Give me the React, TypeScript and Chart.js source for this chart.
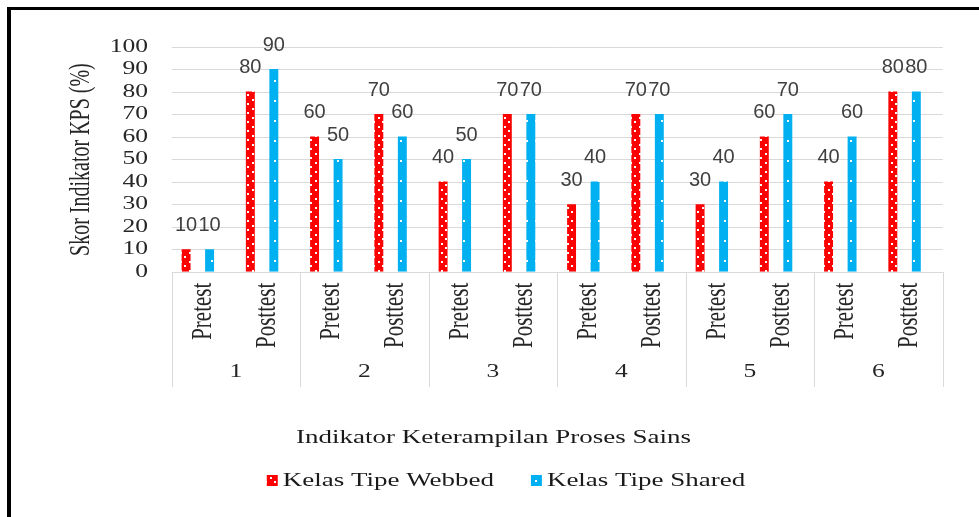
import React, { useEffect, useRef } from 'react';
import { Chart, registerables } from 'chart.js';

Chart.register(...registerables);

const GROUPS = ['1', '2', '3', '4', '5', '6'];
const PHASES = ['Pretest', 'Posttest'];
const CATEGORIES = GROUPS.flatMap((g) => PHASES.map((p) => `${g} ${p}`));
const WEBBED = [10, 80, 60, 70, 40, 70, 30, 70, 30, 60, 40, 80];
const SHARED = [10, 90, 50, 60, 50, 70, 40, 70, 40, 70, 60, 80];
const Y_TICKS = [0, 10, 20, 30, 40, 50, 60, 70, 80, 90, 100];
const SERIES_NAMES = ['Kelas Tipe Webbed', 'Kelas Tipe Shared'];
const X_TITLE = 'Indikator Keterampilan Proses Sains';
const Y_TITLE = 'Skor Indikator KPS (%)';

const RED = '#ff0000';
const BLUE = '#00b0f0';
const GRID = '#d9d9d9';
const SX = 1.42; // horizontal stretch of the serif text
const SHIFT = 6; // axis frame offset relative to the bar slots
const SERIF = "'Liberation Serif', 'Times New Roman', serif";
const SANS = "'Liberation Sans', Arial, sans-serif";

function makePattern(ctx: CanvasRenderingContext2D, bg: string, w: number, h: number, dots: number[][]) {
  const c = document.createElement('canvas');
  c.width = w;
  c.height = h;
  const g = c.getContext('2d')!;
  g.fillStyle = bg;
  g.fillRect(0, 0, w, h);
  g.fillStyle = '#ffffff';
  dots.forEach(([x, y, dw, dh]) => g.fillRect(x, y, dw, dh));
  return ctx.createPattern(c, 'repeat')!;
}

function sText(
  ctx: CanvasRenderingContext2D,
  text: string,
  x: number,
  y: number,
  font: string,
  color: string,
  align: CanvasTextAlign,
  baseline: CanvasTextBaseline,
  sx: number,
  rot = 0
) {
  ctx.save();
  ctx.translate(x, y);
  ctx.scale(sx, 1);
  if (rot) ctx.rotate(rot);
  ctx.font = font;
  ctx.fillStyle = color;
  ctx.textAlign = align;
  ctx.textBaseline = baseline;
  ctx.fillText(text, 0, 0);
  ctx.restore();
}

export default function App() {
  const ref = useRef<HTMLCanvasElement>(null);

  useEffect(() => {
    const canvas = ref.current!;
    const ctx0 = canvas.getContext('2d')!;
    const redPat = makePattern(ctx0, RED, 9, 9, [
      [0, 0, 2, 2],
      [4, 4, 2, 2],
    ]);
    const bluePat = makePattern(ctx0, BLUE, 9, 20, [[4, 0, 2, 2]]);
    const patterns = [redPat, bluePat];

    const frame = (chart: any) => {
      const xs = chart.scales.x;
      const n = CATEGORIES.length;
      const catW = xs.getPixelForValue(1) - xs.getPixelForValue(0);
      const left = xs.getPixelForValue(0) - catW / 2 + SHIFT;
      const right = xs.getPixelForValue(n - 1) + catW / 2 + SHIFT;
      return { catW, left, right };
    };

    const plugin = {
      id: 'excelLook',
      beforeDatasetsDraw(chart: any) {
        const ctx = chart.ctx as CanvasRenderingContext2D;
        const ys = chart.scales.y;
        const { catW, left, right } = frame(chart);
        ctx.save();
        ctx.strokeStyle = GRID;
        ctx.lineWidth = 1;
        Y_TICKS.forEach((v) => {
          const y = Math.round(ys.getPixelForValue(v)) + 0.5;
          ctx.beginPath();
          ctx.moveTo(left, y);
          ctx.lineTo(right, y);
          ctx.stroke();
        });
        // group separators of the two-level category axis
        const y0 = Math.round(ys.getPixelForValue(0));
        for (let g = 0; g <= GROUPS.length; g++) {
          const x = Math.round(left + g * PHASES.length * catW) + 0.5;
          ctx.beginPath();
          ctx.moveTo(x, y0);
          ctx.lineTo(x, y0 + 115);
          ctx.stroke();
        }
        ctx.restore();
      },
      afterDatasetsDraw(chart: any) {
        const ctx = chart.ctx as CanvasRenderingContext2D;
        const ys = chart.scales.y;
        const xs = chart.scales.x;
        const { catW, left } = frame(chart);
        const y0 = ys.getPixelForValue(0);

        // data labels
        chart.data.datasets.forEach((ds: any, di: number) => {
          const meta = chart.getDatasetMeta(di);
          meta.data.forEach((el: any, i: number) => {
            sText(ctx, String(ds.data[i]), el.x, el.y - 18.5, `20px ${SANS}`, '#404040', 'center', 'alphabetic', 1);
          });
        });

        // y tick labels
        Y_TICKS.forEach((v) => {
          sText(ctx, String(v), 148, ys.getPixelForValue(v) + 0.5, `18px ${SERIF}`, '#262626', 'right', 'middle', SX);
        });

        // y title
        const yMid = (ys.getPixelForValue(0) + ys.getPixelForValue(100)) / 2;
        sText(ctx, Y_TITLE, 81.5, yMid + 0.5, `20px ${SERIF}`, '#262626', 'center', 'middle', SX, -Math.PI / 2);

        // inner category labels
        CATEGORIES.forEach((_, i) => {
          const x = xs.getPixelForValue(i) + SHIFT;
          sText(ctx, PHASES[i % PHASES.length], x - 1, y0 + 11, `21px ${SERIF}`, '#262626', 'right', 'middle', SX, -Math.PI / 2);
        });
        // group labels
        GROUPS.forEach((g, gi) => {
          const x = left + (gi * PHASES.length + PHASES.length / 2) * catW;
          sText(ctx, g, x, y0 + 101, `18px ${SERIF}`, '#262626', 'center', 'middle', SX);
        });

        // x title
        sText(ctx, X_TITLE, chart.width / 2 + 4, 442.5, `19px ${SERIF}`, '#1a1a1a', 'center', 'alphabetic', SX);

        // legend
        ctx.save();
        ctx.font = `19px ${SERIF}`;
        const box = 11;
        const gapBox = 5;
        const gapItem = 37;
        const widths = chart.data.datasets.map((ds: any) => box + gapBox + ctx.measureText(ds.label).width * SX);
        const total = widths.reduce((a: number, b: number) => a + b, 0) + gapItem * (widths.length - 1);
        ctx.restore();
        let lx = 506 - total / 2;
        const ly = 486;
        chart.data.datasets.forEach((ds: any, di: number) => {
          ctx.save();
          ctx.fillStyle = patterns[di];
          ctx.fillRect(lx, ly - box, box, box);
          ctx.restore();
          sText(ctx, ds.label, lx + box + gapBox, ly, `19px ${SERIF}`, '#1a1a1a', 'left', 'alphabetic', SX);
          lx += widths[di] + gapItem;
        });

        // outer frame (only top and left edges are visible)
        ctx.save();
        ctx.fillStyle = '#000000';
        ctx.fillRect(7, 7, 4, chart.height);
        ctx.fillRect(7, 7, chart.width, 3);
        ctx.restore();
      },
    };

    const chart = new Chart(canvas, {
      type: 'bar',
      data: {
        labels: CATEGORIES,
        datasets: [
          {
            label: SERIES_NAMES[0],
            data: WEBBED,
            backgroundColor: redPat as any,
            borderWidth: 0,
            categoryPercentage: 0.7315,
            barPercentage: 0.38,
          },
          {
            label: SERIES_NAMES[1],
            data: SHARED,
            backgroundColor: bluePat as any,
            borderWidth: 0,
            categoryPercentage: 0.7315,
            barPercentage: 0.38,
          },
        ],
      },
      options: {
        responsive: false,
        animation: false,
        devicePixelRatio: 1,
        layout: { padding: { left: 165.7, right: 42.3, top: 46.5, bottom: 245.3 } },
        plugins: { legend: { display: false }, tooltip: { enabled: false } },
        scales: {
          x: { display: false },
          y: { display: false, min: 0, max: 100 },
        },
      },
      plugins: [plugin],
    });
    return () => chart.destroy();
  }, []);

  return (
    <div style={{ position: 'absolute', left: 0, top: 0, width: 979, height: 517, overflow: 'hidden', background: '#fff' }}>
      <canvas ref={ref} width={979} height={517} style={{ display: 'block' }} />
    </div>
  );
}
